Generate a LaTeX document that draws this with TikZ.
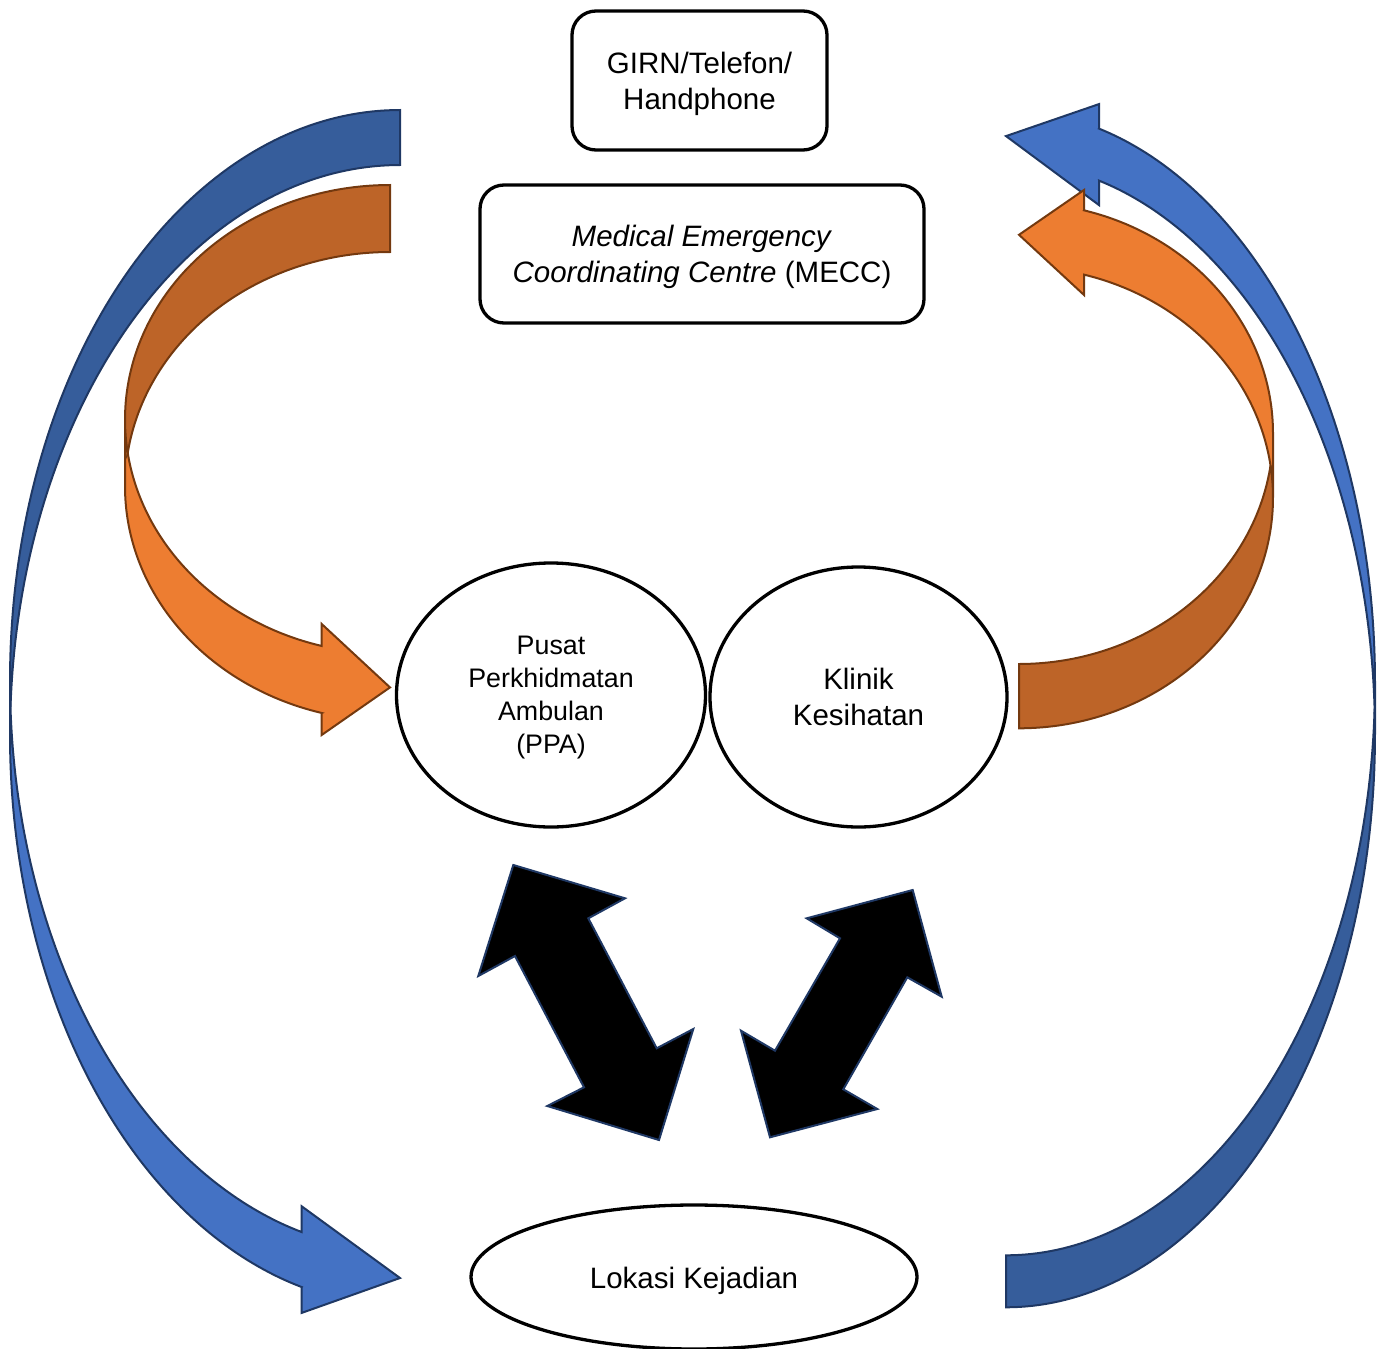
\documentclass[tikz,border=0pt]{standalone}
\usepackage{fontspec}
\setmainfont{Liberation Sans}
\usetikzlibrary{shapes.geometric}

\definecolor{bluefront}{HTML}{4472C4}
\definecolor{blueback}{HTML}{365D9B}
\definecolor{blueline}{HTML}{1F3864}
\definecolor{orangefront}{HTML}{ED7D31}
\definecolor{orangeback}{HTML}{BD6428}
\definecolor{orangeline}{HTML}{74390F}

\tikzset{
  boxnode/.style={draw, line width=3.3pt, rounded corners=24pt, inner sep=0pt, fill=white},
  ovalnode/.style={draw, ellipse, line width=3.3pt, inner sep=0pt, fill=white},
  maintext/.style={align=center, inner sep=0pt, font=\fontsize{29.5}{36}\selectfont},
  smalltext/.style={align=center, inner sep=0pt, font=\fontsize{26.8}{33}\selectfont},
  bluefrontfill/.style={fill=bluefront, draw=blueline, line width=2pt, line join=miter},
  bluebackfill/.style={fill=blueback, draw=blueline, line width=2pt, line join=miter},
  orangefrontfill/.style={fill=orangefront, draw=orangeline, line width=2pt, line join=miter},
  orangebackfill/.style={fill=orangeback, draw=orangeline, line width=2pt, line join=miter},
  blockarrow/.style={fill=black, draw=blueline, line width=2pt, line join=miter},
}

% Curved block arrow: a band between two equal ellipses (one shifted down by
% the band thickness), with the arrow head at the lower right.
% #1 left, #2 top, #3 width, #4 height, #5 band thickness,
% #6 head width, #7 head length, #8 style of front part, #9 style of back part
\newcommand{\bentarrow}[9]{%
  \pgfmathsetmacro{\cL}{#1}%
  \pgfmathsetmacro{\cT}{#2}%
  \pgfmathsetmacro{\cW}{#3}%
  \pgfmathsetmacro{\cH}{#4}%
  \pgfmathsetmacro{\cTh}{#5}%
  \pgfmathsetmacro{\cAw}{#6}%
  \pgfmathsetmacro{\cAh}{#7}%
  \pgfmathsetmacro{\cHR}{\cH/2-(\cTh+\cAw)/4}%
  \pgfmathsetmacro{\cDy}{\cHR*sqrt(1-(\cAh/\cW)^2)}%
  \pgfmathsetmacro{\cPhi}{acos(-\cAh/\cW)}%
  \pgfmathsetmacro{\cA}{asin(\cTh/(2*\cHR))}%
  \pgfmathsetmacro{\cAlo}{180-\cA}%
  \pgfmathsetmacro{\cAhi}{180+\cA}%
  \pgfmathsetmacro{\cCx}{\cL+\cW}%
  \pgfmathsetmacro{\cCa}{\cT+\cHR}%
  \pgfmathsetmacro{\cCb}{\cT+\cHR+\cTh}%
  \pgfmathsetmacro{\cXa}{\cL+\cW-\cAh}%
  \pgfmathsetmacro{\cYa}{\cCa+\cDy}%
  \pgfmathsetmacro{\cYb}{\cCb+\cDy}%
  \pgfmathsetmacro{\cDh}{(\cAw-\cTh)/2}%
  \pgfmathsetmacro{\cYtip}{\cT+\cH-\cAw/2}%
  % front part with the head
  \draw[#8] plot[domain=180:\cPhi, samples=90] ({\cCx+\cW*cos(\x)},{\cCa+\cHR*sin(\x)})
    -- (\cXa,\cYa-\cDh) -- (\cCx,\cYtip) -- (\cXa,\cYb+\cDh) -- (\cXa,\cYb)
    -- plot[domain=\cPhi:180, samples=90] ({\cCx+\cW*cos(\x)},{\cCb+\cHR*sin(\x)}) -- cycle;
  % back part, from the flat end to the crossing of the two edges
  \draw[#9] plot[domain=270:\cAhi, samples=90] ({\cCx+\cW*cos(\x)},{\cCb+\cHR*sin(\x)})
    -- plot[domain=\cAlo:270, samples=90] ({\cCx+\cW*cos(\x)},{\cCa+\cHR*sin(\x)}) -- cycle;
}

\begin{document}
\begin{tikzpicture}[x=1pt, y=-1pt]
\useasboundingbox (0,0) rectangle (1387,1349);

% outer blue loop
\bentarrow{10}{110}{390}{1221.3}{55}{106.6}{98.3}{bluefrontfill}{bluebackfill}
\begin{scope}[rotate around={180:(1190.5,696.45)}]
  \bentarrow{1006}{85.6}{369}{1221.7}{52}{101}{93}{bluefrontfill}{bluebackfill}
\end{scope}

% inner orange loop
\bentarrow{125}{185}{265}{557.9}{67}{111}{68.3}{orangefrontfill}{orangebackfill}
\begin{scope}[rotate around={180:(1146.15,455.3)}]
  \bentarrow{1019.3}{182.3}{254}{546}{64.3}{105}{65}{orangefrontfill}{orangebackfill}
\end{scope}

% two-way block arrows
\draw[blockarrow] (513.3,865) -- (625,898.3) -- (588.3,918.3) -- (656.7,1048.3)
  -- (693.3,1029) -- (659,1140) -- (547.3,1106) -- (584,1087.3) -- (515,956)
  -- (478.3,976) -- cycle;
\draw[blockarrow] (912.7,890) -- (941.7,996.7) -- (907.3,977.3) -- (843.3,1089.3)
  -- (877.3,1109) -- (770,1137.3) -- (741,1030.7) -- (775,1050.7) -- (840,938.3)
  -- (806.7,918.3) -- cycle;

% boxes and ovals, each with its text set a little below the centre
\node[boxnode, minimum width=255pt, minimum height=139pt,
  label={[maintext, yshift=-3pt]center:GIRN/Telefon/\\Handphone}] (girn) at (699.5,80.5) {};
\node[boxnode, minimum width=444pt, minimum height=138pt,
  label={[maintext, yshift=-2.5pt]center:\textit{Medical Emergency}\\\textit{Coordinating Centre} (MECC)}]
  (mecc) at (702,254) {};
\node[ovalnode, minimum width=309pt, minimum height=264pt,
  label={[smalltext, yshift=-2.5pt]center:Pusat\\Perkhidmatan\\Ambulan\\(PPA)}] (ppa) at (551,695) {};
\node[ovalnode, minimum width=297pt, minimum height=260pt,
  label={[maintext]center:Klinik\\Kesihatan}] (klinik) at (858.5,697) {};
\node[ovalnode, minimum width=446pt, minimum height=144pt,
  label={[maintext, yshift=-3.5pt]center:Lokasi Kejadian}] (lokasi) at (694,1277) {};
\end{tikzpicture}
\end{document}
